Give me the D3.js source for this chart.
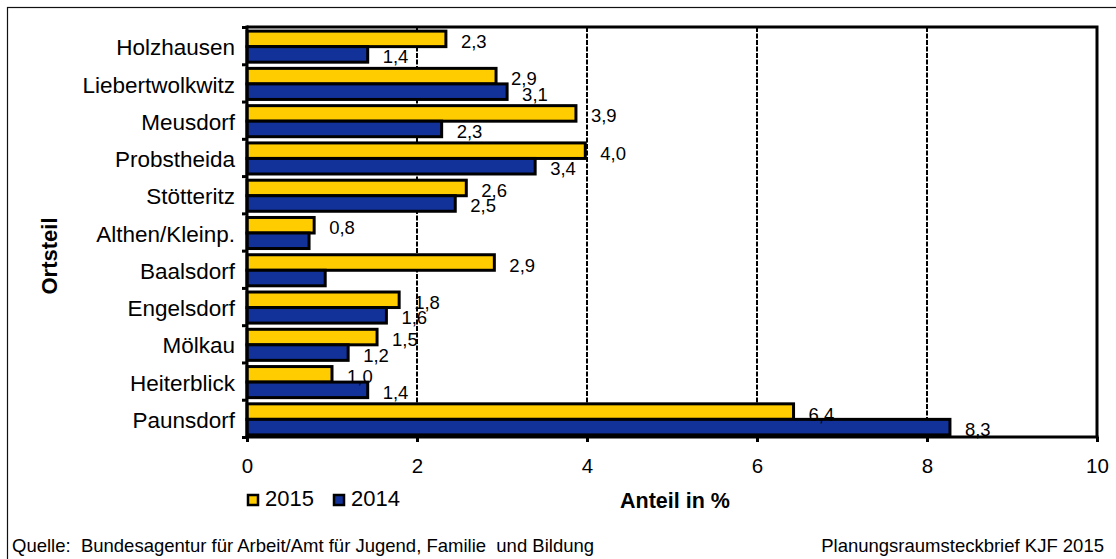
<!DOCTYPE html>
<html><head><meta charset="utf-8">
<script src="https://cdn.jsdelivr.net/npm/d3@7"></script>
<style>
html,body{margin:0;padding:0;background:#fff;}
svg text{font-family:"Liberation Sans",Arial,sans-serif;fill:#000;}
</style></head>
<body><svg id="c" width="1116" height="559"></svg>
<script>
const categories = ["Holzhausen","Liebertwolkwitz","Meusdorf","Probstheida","Stötteritz","Althen/Kleinp.","Baalsdorf","Engelsdorf","Mölkau","Heiterblick","Paunsdorf"];
const seriesNames = ["2015","2014"];
const values2015 = [2.34,2.93,3.87,3.98,2.58,0.79,2.91,1.79,1.53,1.00,6.43];
const values2014 = [1.42,3.06,2.29,3.39,2.45,0.73,0.92,1.64,1.19,1.42,8.27];
const labels2015 = ["2,3","2,9","3,9","4,0","2,6","0,8","2,9","1,8","1,5","1,0","6,4"];
const labels2014 = ["1,4","3,1","2,3","3,4","2,5","","","1,6","1,2","1,4","8,3"];
const xTicks = [0,2,4,6,8,10];
const colors = ["#FFCC00","#12329A"];

const svg = d3.select("#c");
const L = 247, R = 1097, T = 27, B = 437;

// outer chart border
svg.append("rect").attr("x",7.5).attr("y",7.5).attr("width",1200).attr("height",700)
  .attr("fill","none").attr("stroke","#111").attr("stroke-width",1.2);

const x = d3.scaleLinear().domain([0,10]).range([L,R]);
const y = d3.scaleBand().domain(categories).range([T,B]).padding(0);
const yi = d3.scaleBand().domain(seriesNames).range([0,y.bandwidth()]).paddingInner(0).paddingOuter(0.2);

// gridlines
svg.append("g").selectAll("line").data(xTicks.filter(d=>d>0&&d<10)).join("line")
  .attr("x1",d=>x(d)).attr("x2",d=>x(d)).attr("y1",T).attr("y2",B)
  .attr("stroke","#000").attr("stroke-width",2).attr("stroke-dasharray","5,1.5");

// bars
const data = [];
categories.forEach((c,i)=>{
  data.push({c, s:"2015", v:values2015[i], l:labels2015[i], col:colors[0]});
  data.push({c, s:"2014", v:values2014[i], l:labels2014[i], col:colors[1]});
});
const g = svg.append("g");
g.selectAll("rect").data(data).join("rect")
  .attr("x",x(0)).attr("y",d=>y(d.c)+yi(d.s)+1)
  .attr("width",d=>x(d.v)-x(0)).attr("height",yi.bandwidth())
  .attr("fill",d=>d.col).attr("stroke","#000").attr("stroke-width",3);

// value labels
svg.append("g").selectAll("text").data(data.filter(d=>d.l)).join("text")
  .attr("x",d=>x(d.v)+15).attr("y",d=>y(d.c)+yi(d.s)+1+yi.bandwidth()/2+9)
  .attr("font-size","18.5px").text(d=>d.l);

// frame top/right
svg.append("path").attr("d",`M${L},${T}H${R}V${B}`).attr("fill","none")
  .attr("stroke","#000").attr("stroke-width",3);

// y axis (ticks at category boundaries)
const yIdx = d3.scaleLinear().domain([0,categories.length]).range([T,B]);
const yAx = svg.append("g").attr("transform",`translate(${L},0)`)
  .call(d3.axisLeft(yIdx).tickValues(d3.range(categories.length+1)).tickSize(5).tickFormat(""));
yAx.selectAll("path,line").attr("stroke","#000").attr("stroke-width",3);
yAx.select("path").attr("d",`M0,${T-1.5}V${B+1.5}`);

// category labels
svg.append("g").selectAll("text").data(categories).join("text")
  .attr("x",L-12).attr("y",d=>y(d)+y.bandwidth()/2+1.5).attr("dy","0.36em")
  .attr("text-anchor","end").attr("font-size","22.5px").text(d=>d);

// x axis
const xAx = svg.append("g").attr("transform",`translate(0,${B})`)
  .call(d3.axisBottom(x).tickValues(xTicks).tickSize(5).tickPadding(16).tickFormat(d3.format("d")));
xAx.selectAll("path,line").attr("stroke","#000").attr("stroke-width",3);
xAx.select("path").attr("d",`M${L-1.5},0H${R+1.5}`);
xAx.selectAll("text").attr("font-size","20.5px").attr("font-family","Liberation Sans, Arial, sans-serif").attr("fill","#000");

// axis titles
svg.append("text").attr("x",675).attr("y",508).attr("text-anchor","middle")
  .attr("font-size","21.5px").attr("font-weight","bold").text("Anteil in %");
svg.append("text").attr("transform","translate(57,256) rotate(-90)").attr("text-anchor","middle")
  .attr("font-size","22px").attr("font-weight","bold").text("Ortsteil");

// legend
const leg = svg.append("g");
const legX = [247, 333];
seriesNames.forEach((s,i)=>{
  leg.append("rect").attr("x",legX[i]+1).attr("y",495).attr("width",10).attr("height",10)
    .attr("fill",colors[i]).attr("stroke","#000").attr("stroke-width",2.5);
  leg.append("text").attr("x",legX[i]+18).attr("y",506).attr("font-size","22px").text(s);
});

// footer
svg.append("text").attr("x",12).attr("y",552).attr("font-size","18.5px")
  .style("white-space","pre").text("Quelle:  Bundesagentur für Arbeit/Amt für Jugend, Familie  und Bildung");
svg.append("text").attr("x",1104).attr("y",552).attr("text-anchor","end").attr("font-size","18.5px")
  .text("Planungsraumsteckbrief KJF 2015");
</script></body></html>
